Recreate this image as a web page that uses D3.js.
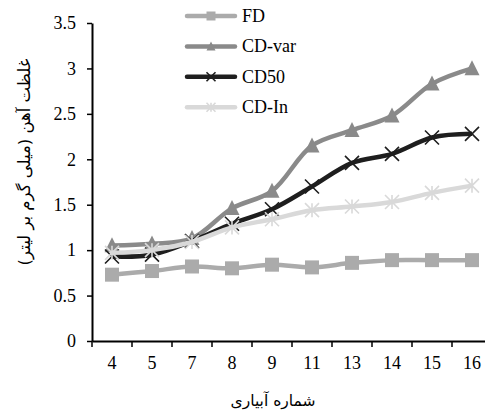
<!DOCTYPE html>
<html><head><meta charset="utf-8">
<script src="https://cdn.jsdelivr.net/npm/d3@7"></script>
<style>body{margin:0;background:#fff}svg{display:block}</style>
</head><body>
<svg id="c" width="485" height="410"></svg>
<script>
const categories = ["4","5","7","8","9","11","13","14","15","16"];
const seriesNames = ["FD","CD-var","CD50","CD-In"];
const fdValues    = [0.73,0.77,0.82,0.80,0.84,0.81,0.86,0.89,0.89,0.89];
const cdVarValues = [1.05,1.07,1.13,1.46,1.65,2.15,2.32,2.48,2.83,3.00];
const cd50Values  = [0.93,0.95,1.10,1.29,1.45,1.70,1.96,2.06,2.24,2.28];
const cdInValues  = [0.97,1.00,1.09,1.25,1.34,1.44,1.48,1.53,1.63,1.71];
const yTicks = [0,0.5,1,1.5,2,2.5,3,3.5];
const yTitle = "غلظت آهن (میلی گرم بر لیتر)";
const xTitle = "شماره آبیاری";

const series = [
  {name:seriesNames[0], values:fdValues,    color:"#ababab", marker:"square"},
  {name:seriesNames[1], values:cdVarValues, color:"#8a8a8a", marker:"triangle"},
  {name:seriesNames[2], values:cd50Values,  color:"#1e1e1e", marker:"x"},
  {name:seriesNames[3], values:cdInValues,  color:"#d9d9d9", marker:"star"}
];

const svg = d3.select("#c");
const x = d3.scaleBand().domain(categories).range([92,492]);
const y = d3.scaleLinear().domain([0,3.5]).range([341,23]);
const serif = "Liberation Serif, Times New Roman, serif";

// y axis
const ya = svg.append("g").attr("transform","translate(92,0)")
  .call(d3.axisLeft(y).tickValues(yTicks).tickSize(5).tickSizeOuter(0).tickPadding(11).tickFormat(d=>String(d)));
ya.attr("font-family",serif).attr("font-size",18);
ya.select(".domain").attr("stroke","#000").attr("stroke-width",2);
ya.selectAll(".tick line").attr("stroke","#000").attr("stroke-width",1.5);
ya.selectAll("text").attr("fill","#000").style("font-family",serif);

// x axis
const xa = svg.append("g").attr("transform","translate(0,341)")
  .call(d3.axisBottom(x).tickSize(0).tickPadding(15));
xa.attr("font-family",serif).attr("font-size",18);
xa.select(".domain").attr("stroke","#000").attr("stroke-width",2);
xa.selectAll("text").attr("fill","#000").style("font-family",serif);
// tick marks at band boundaries
const bounds = categories.map(c=>x(c)).concat([x.range()[1]]);
svg.append("g").selectAll("line").data(bounds).join("line")
  .attr("x1",d=>d).attr("x2",d=>d).attr("y1",341).attr("y2",347)
  .attr("stroke","#000").attr("stroke-width",1.5);

// titles
svg.append("text").attr("transform","translate(24,162) rotate(-90)")
  .attr("text-anchor","middle").attr("dominant-baseline","central")
  .attr("font-family","DejaVu Sans, sans-serif").attr("font-size",16.5)
  .text(yTitle);
svg.append("text").attr("x",273).attr("y",401).attr("text-anchor","middle")
  .attr("dominant-baseline","central")
  .attr("font-family","DejaVu Sans, sans-serif").attr("font-size",15.5)
  .text(xTitle);

function drawMarker(g, type, color, s){
  const h = s/2;
  if(type==="square"){
    g.append("rect").attr("x",-h).attr("y",-h).attr("width",s).attr("height",s).attr("fill",color);
  } else if(type==="triangle"){
    g.append("path").attr("d",`M0,${-h*1.1}L${h},${h*0.9}L${-h},${h*0.9}Z`).attr("fill",color);
  } else if(type==="x"){
    g.append("path").attr("d",`M${-h},${-h}L${h},${h}M${-h},${h}L${h},${-h}`)
      .attr("stroke",color).attr("stroke-width",1.6).attr("fill","none");
  } else if(type==="star"){
    g.append("path").attr("d",`M${-h},${-h}L${h},${h}M${-h},${h}L${h},${-h}M0,${-h}L0,${h}`)
      .attr("stroke",color).attr("stroke-width",1.6).attr("fill","none");
  }
}

const line = d3.line().x((d,i)=>x(categories[i])+x.bandwidth()/2).y(d=>y(d)).curve(d3.curveCatmullRom.alpha(0.5));

series.forEach(s=>{
  const g = svg.append("g");
  g.append("path").attr("d",line(s.values)).attr("fill","none")
    .attr("stroke",s.color).attr("stroke-width",4.5).attr("stroke-linejoin","round");
  s.values.forEach((v,i)=>{
    const m = g.append("g").attr("transform",`translate(${x(categories[i])+x.bandwidth()/2},${y(v)})`);
    drawMarker(m, s.marker, s.color, s.marker==="square"?14:(s.marker==="triangle"?15:14));
  });
});

// legend
series.forEach((s,i)=>{
  const yy = 16 + i*30.4;
  const g = svg.append("g");
  g.append("line").attr("x1",187).attr("x2",235).attr("y1",yy).attr("y2",yy)
    .attr("stroke",s.color).attr("stroke-width",4.5).attr("stroke-linecap","round");
  const m = g.append("g").attr("transform",`translate(211,${yy})`);
  drawMarker(m, s.marker, s.color, 9);
  g.append("text").attr("x",242).attr("y",yy).attr("dominant-baseline","central")
    .style("font-family",serif).attr("font-size",18).attr("fill","#000").text(s.name);
});
</script>
</body></html>
